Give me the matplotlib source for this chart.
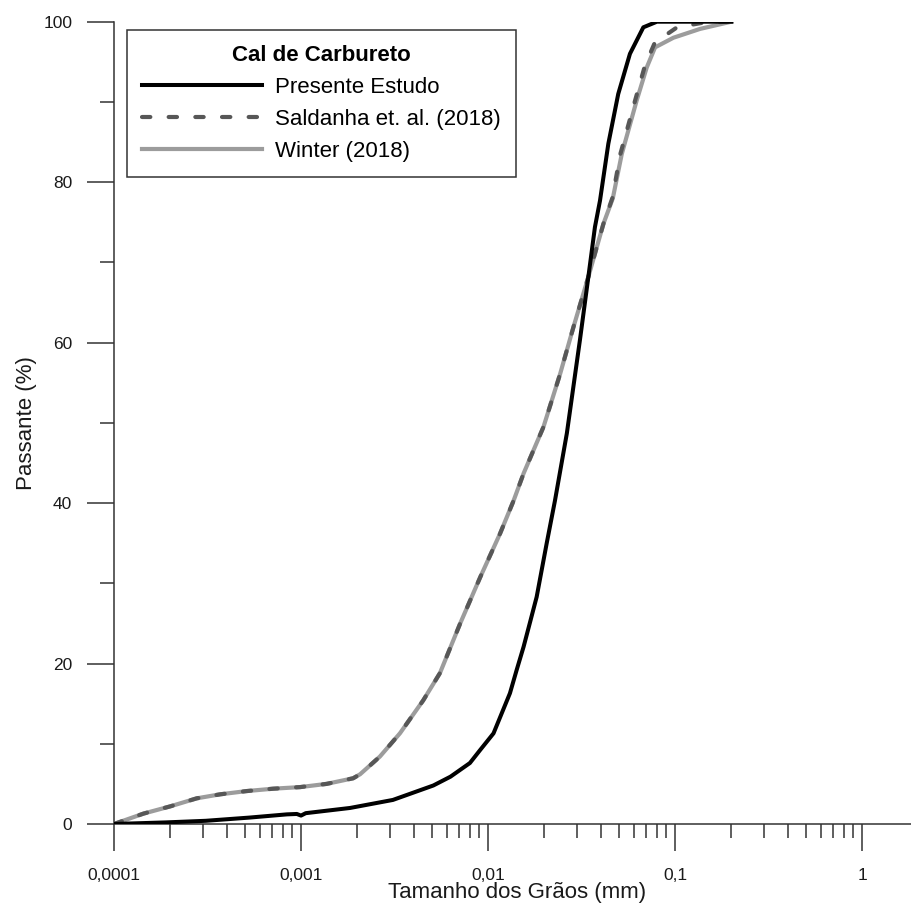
import matplotlib
matplotlib.use("Agg")
import matplotlib.pyplot as plt
from matplotlib.ticker import FixedLocator, FuncFormatter, NullFormatter

plt.rcParams['font.family'] = ['Liberation Sans', 'DejaVu Sans']

# Curvas granulométricas (tamanho em mm, passante em %)
presente_x = [0.0001, 0.00019, 0.00031, 0.00053, 0.00084, 0.00095, 0.001, 0.00106,
              0.00183, 0.0031, 0.0051, 0.0063, 0.008, 0.00906, 0.0107, 0.01184, 0.0131,
              0.01423, 0.0155, 0.0168, 0.0182, 0.0206, 0.0228, 0.0264, 0.031, 0.0344,
              0.0373, 0.0397, 0.044, 0.0497, 0.0574, 0.0677, 0.08, 0.2]
presente_y = [0, 0.2, 0.4, 0.8, 1.2, 1.25, 1.05, 1.35,
              2.0, 3.0, 4.8, 5.9, 7.6, 9.2, 11.3, 13.8, 16.3,
              19.2, 22.1, 25.2, 28.3, 35.0, 40.3, 48.7, 60.3, 68.2,
              74.4, 77.7, 84.8, 91.0, 96.0, 99.3, 100, 100]

saldanha_x = [0.0001, 0.000144, 0.0002, 0.000277, 0.00037, 0.00051, 0.00071, 0.00099,
              0.00137, 0.0019, 0.00207, 0.00264, 0.00338, 0.0045, 0.00553, 0.0071,
              0.0091, 0.0116, 0.0137, 0.0155, 0.0198, 0.0243, 0.0286, 0.0344, 0.0414,
              0.0462, 0.051, 0.0612, 0.069, 0.078, 0.1025, 0.143, 0.2]
saldanha_y = [0, 1.3, 2.2, 3.2, 3.7, 4.1, 4.4, 4.6,
              5.0, 5.7, 6.2, 8.4, 11.3, 15.4, 18.8, 25.0,
              30.8, 36.2, 40.3, 43.7, 49.5, 56.1, 61.9, 68.2, 74.8,
              78.0, 83.5, 90.2, 94.5, 97.4, 99.3, 99.9, 100]

winter_x = [0.0001, 0.000144, 0.0002, 0.000277, 0.00037, 0.00051, 0.00071, 0.00099,
            0.00137, 0.0019, 0.00207, 0.00264, 0.00338, 0.0045, 0.00553, 0.0071,
            0.0091, 0.0116, 0.0137, 0.0155, 0.0198, 0.0243, 0.0286, 0.0344, 0.0414,
            0.0465, 0.0519, 0.0624, 0.0706, 0.0782, 0.098, 0.136, 0.2]
winter_y = [0, 1.3, 2.2, 3.2, 3.7, 4.1, 4.4, 4.6,
            5.0, 5.7, 6.2, 8.4, 11.3, 15.4, 18.8, 25.0,
            30.8, 36.2, 40.3, 43.7, 49.5, 56.1, 61.9, 68.2, 74.8,
            78.0, 83.5, 90.2, 94.3, 96.8, 98.0, 99.1, 100]

x_major = [0.0001, 0.001, 0.01, 0.1, 1]
x_labels = ["0,0001", "0,001", "0,01", "0,1", "1"]

fig = plt.figure(figsize=(9.12, 9.09), dpi=100)
ax = fig.add_axes([114 / 912, 85 / 909, 798 / 912, 802.3 / 909])

ax.plot(winter_x, winter_y, color='#9c9c9c', lw=3.0, label='Winter (2018)', zorder=2)
ax.plot(saldanha_x, saldanha_y, color='#575757', lw=3.0, linestyle=(0, (2.0, 4.4)),
        dash_capstyle='round', label='Saldanha et. al. (2018)', zorder=3)
ax.plot(presente_x, presente_y, color='black', lw=2.9, label='Presente Estudo', zorder=4)

ax.set_xscale('log')
ax.set_xlim(1e-4, 1.85)
ax.set_ylim(0, 100)

ax.xaxis.set_major_locator(FixedLocator(x_major))
ax.xaxis.set_major_formatter(FuncFormatter(lambda v, p: x_labels[x_major.index(v)] if v in x_major else ""))
minors = [m * d for d in [0.0001, 0.001, 0.01, 0.1] for m in range(2, 10)]
ax.xaxis.set_minor_locator(FixedLocator(minors))
ax.xaxis.set_minor_formatter(NullFormatter())

ax.yaxis.set_major_locator(FixedLocator([0, 20, 40, 60, 80, 100]))
ax.yaxis.set_minor_locator(FixedLocator([10, 30, 50, 70, 90]))

for s in ['top', 'right']:
    ax.spines[s].set_visible(False)
for s in ['left', 'bottom']:
    ax.spines[s].set_color('#333333')
    ax.spines[s].set_linewidth(1.1)

ax.tick_params(which='major', length=19.5, width=1.1, color='#333333',
               labelsize=12.5, labelcolor='#1a1a1a')
ax.tick_params(which='minor', length=10, width=1.1, color='#333333')
ax.tick_params(axis='x', which='major', pad=12.5)
ax.tick_params(axis='y', which='major', pad=10.5)

ax.set_xlabel("Tamanho dos Grãos (mm)", fontsize=16, color='#1a1a1a')
ax.xaxis.set_label_coords(0.505, -0.072)
ax.set_ylabel("Passante (%)", fontsize=16, color='#1a1a1a')
ax.yaxis.set_label_coords(-0.097, 0.5)

handles, labels = ax.get_legend_handles_labels()
order = [2, 1, 0]
leg = ax.legend([handles[i] for i in order], [labels[i] for i in order],
                title="Cal de Carbureto", loc='upper left',
                bbox_to_anchor=(13 / 798, (824 - 30) / 802.3), borderaxespad=0,
                fontsize=16, title_fontproperties={'weight': 'bold', 'size': 16},
                handlelength=5.4, handletextpad=0.6, labelspacing=0.5,
                borderpad=0.67, fancybox=False, framealpha=1, edgecolor='#333333')
leg.get_frame().set_linewidth(1.1)

fig.savefig("out.png", dpi=100)
